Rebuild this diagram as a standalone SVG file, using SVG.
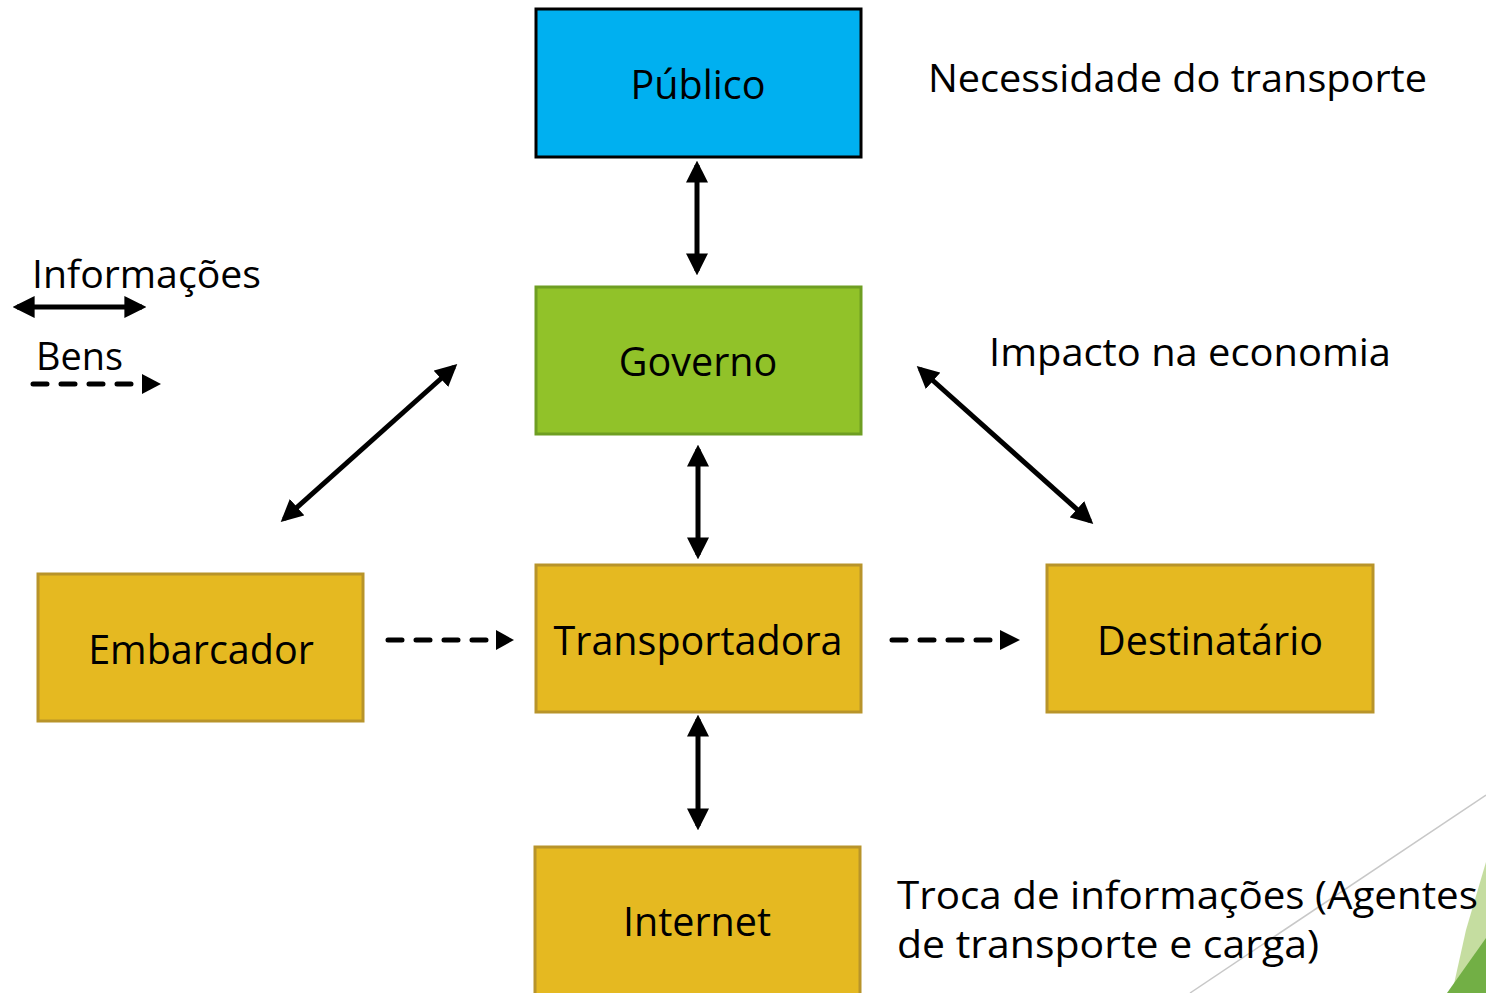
<svg xmlns="http://www.w3.org/2000/svg" width="1486" height="993" viewBox="0 0 1486 993">
<style>
text{font-family:"Open Sans","DejaVu Sans",sans-serif;fill:#000}
.node{font-size:39.5px;text-anchor:middle}
.lbl{font-size:39px}
.info{stroke:#000;stroke-width:5;fill:none}
.goods{stroke:#000;stroke-width:5;fill:none;stroke-dasharray:14 14;stroke-linecap:round}
.yellow{fill:#E5B921;stroke:#B8942A;stroke-width:3}
</style>
<defs>
<marker id="ah" viewBox="0 0 10 10" refX="8" refY="5" markerWidth="4.4" markerHeight="4.4" orient="auto-start-reverse" markerUnits="strokeWidth">
<path d="M0,0 L10,5 L0,10 z" fill="#000"/>
</marker>
</defs>
<g id="decoration">
<line x1="1486" y1="795" x2="1190" y2="993" stroke="#C8C8C8" stroke-width="1.5"/>
<polygon points="1486,862 1466,930 1452,993 1486,993" fill="#C5DDA0"/>
<polygon points="1486,938 1447,993 1486,993" fill="#72AF45"/>
</g>
<g id="node-publico">
<rect x="536" y="9" width="325" height="148" fill="#00B0F0" stroke="#000" stroke-width="3"/>
<text class="node" x="698" y="99">Público</text>
</g>
<g id="node-governo">
<rect x="536" y="287" width="325" height="147" fill="#91C229" stroke="#6E9E22" stroke-width="3"/>
<text class="node" x="698" y="376">Governo</text>
</g>
<g id="node-transportadora">
<rect class="yellow" x="536" y="565" width="325" height="147"/>
<text class="node" x="698" y="655">Transportadora</text>
</g>
<g id="node-embarcador">
<rect class="yellow" x="38" y="574" width="325" height="147"/>
<text class="node" x="201" y="664">Embarcador</text>
</g>
<g id="node-destinatario">
<rect class="yellow" x="1047" y="565" width="326" height="147"/>
<text class="node" x="1210" y="655">Destinatário</text>
</g>
<g id="node-internet">
<rect class="yellow" x="535" y="847" width="325" height="160"/>
<text class="node" x="697" y="936">Internet</text>
</g>
<g id="labels">
<text class="lbl" x="928" y="92" textLength="499" lengthAdjust="spacingAndGlyphs">Necessidade do transporte</text>
<text class="lbl" x="989" y="366" textLength="402" lengthAdjust="spacingAndGlyphs">Impacto na economia</text>
<text class="lbl" x="897" y="909" textLength="581" lengthAdjust="spacingAndGlyphs">Troca de informações (Agentes</text>
<text class="lbl" x="897" y="958" textLength="422" lengthAdjust="spacingAndGlyphs">de transporte e carga)</text>
<text class="lbl" x="32" y="288" textLength="229" lengthAdjust="spacingAndGlyphs">Informações</text>
<text class="lbl" x="36" y="370" textLength="87" lengthAdjust="spacingAndGlyphs">Bens</text>
</g>
<g id="connectors">
<line class="info" x1="697" y1="165" x2="697" y2="271" marker-start="url(#ah)" marker-end="url(#ah)"/>
<line class="info" x1="698" y1="449" x2="698" y2="555" marker-start="url(#ah)" marker-end="url(#ah)"/>
<line class="info" x1="698" y1="719" x2="698" y2="826" marker-start="url(#ah)" marker-end="url(#ah)"/>
<line class="info" x1="284" y1="519" x2="454" y2="367" marker-start="url(#ah)" marker-end="url(#ah)"/>
<line class="info" x1="920" y1="369" x2="1090" y2="521" marker-start="url(#ah)" marker-end="url(#ah)"/>
<line class="info" x1="17" y1="307" x2="142" y2="307" marker-start="url(#ah)" marker-end="url(#ah)"/>
<line class="goods" x1="388" y1="640" x2="494" y2="640"/>
<polygon points="496,630 514,640 496,650" fill="#000"/>
<line class="goods" x1="892" y1="640" x2="998" y2="640"/>
<polygon points="1000,630 1020,640 1000,650" fill="#000"/>
<line class="goods" x1="33" y1="384" x2="139" y2="384"/>
<polygon points="142,374 161,384 142,394" fill="#000"/>
</g>
</svg>
